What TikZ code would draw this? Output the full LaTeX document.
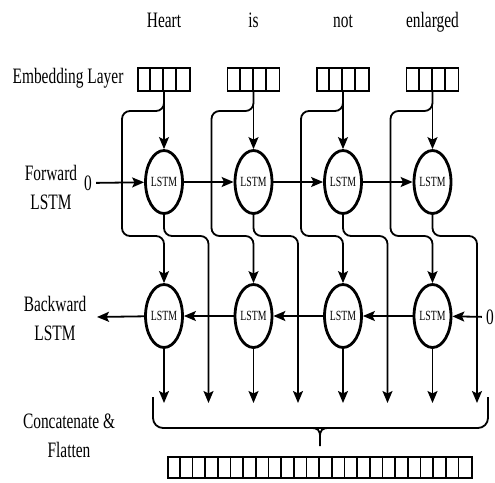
\documentclass[tikz,border=0pt]{standalone}
\usepackage{fontspec}
\newfontfamily\narrowserif[FakeStretch=0.7]{Liberation Serif}
\usetikzlibrary{arrows.meta, positioning, shapes.geometric}

\begin{document}
\begin{tikzpicture}[x=1pt, y=-1pt, node distance=89.5pt, on grid,
   >={Stealth[length=12pt, width=10pt, inset=2.5pt]}, line width=1.8pt,
   lstm/.style={ellipse, draw, line width=2.8pt, minimum width=35pt,
      minimum height=63pt, inner sep=0pt, font=\narrowserif\fontsize{14}{14}\selectfont},
   embbox/.style={draw, line width=1.6pt, minimum width=52pt, minimum height=23pt, inner sep=0pt},
   word/.style={font=\narrowserif\fontsize{22}{29}\selectfont, align=center}]
   \useasboundingbox (0,0) rectangle (495,482);

   % 前向 LSTM
   \node[lstm] (f1) at (164,182) {LSTM};
   \node[lstm] (f2) [right=of f1] {LSTM};
   \node[lstm] (f3) [right=of f2] {LSTM};
   \node[lstm] (f4) [right=of f3] {LSTM};
   % 后向 LSTM
   \node[lstm] (b1) [below=134pt of f1] {LSTM};
   \node[lstm] (b2) [right=of b1] {LSTM};
   \node[lstm] (b3) [right=of b2] {LSTM};
   \node[lstm] (b4) [right=of b3] {LSTM};
   % 嵌入层
   \node[embbox] (e1) [above=102.5pt of f1] {};
   \node[embbox] (e2) [right=of e1] {};
   \node[embbox] (e3) [right=of e2] {};
   \node[embbox] (e4) [right=of e3] {};
   \foreach \n in {e1,e2,e3,e4}
      \foreach \k in {1,2,3}
         \draw[line width=1.6pt] ([xshift=\k*13pt]\n.south west) -- ([xshift=\k*13pt]\n.north west);
   % 输入词
   \node[word, above=52.5pt of e1, anchor=base] (w1) {Heart};
   \node[word, above=52.5pt of e2, anchor=base] (w2) {is};
   \node[word, above=52.5pt of e3, anchor=base] (w3) {not};
   \node[word, above=52.5pt of e4, anchor=base] (w4) {enlarged};
   % 左侧说明
   \node[word] (lemb) at (68,78) {Embedding Layer};
   \node[word] (lfwd) at (51,187) {Forward\\LSTM};
   \node[word] (lbwd) at (55,318) {Backward\\LSTM};
   \node[word] (lcat) at (69,436) {Concatenate \&\\Flatten};
   \node[word] (z1) at (88,183) {0};
   \node[word] (z2) at (490,317) {0};
   \coordinate (bend) at (97,317);
   % 输出端
   \coordinate (c1) at (164,403);
   \coordinate (c2) at (208.5,403);
   \coordinate (c3) at (253.5,403);
   \coordinate (c4) at (298,403);
   \coordinate (c5) at (343,403);
   \coordinate (c6) at (387.5,403);
   \coordinate (c7) at (432.5,403);
   \coordinate (c8) at (477,403);

   % 直线箭头
   \path[->, line width=1.8pt]
   (z1) edge (f1)
   (f1) edge (f2)
   (f2) edge (f3)
   (f3) edge (f4)
   (z2) edge (b4)
   (b4) edge (b3)
   (b3) edge (b2)
   (b2) edge (b1)
   (b1) edge (bend)
   (e1) edge (f1)
   (e2) edge (f2)
   (e3) edge (f3)
   (e4) edge (f4)
   (b1) edge (c1)
   (b2) edge (c3)
   (b3) edge (c5)
   (b4) edge (c7);

   % 嵌入层到后向 LSTM
   \draw[->, rounded corners=8pt] (e1.south) -- (164,111) -- (122,111) -- (122,236) -- (164,236) -- (b1.north);
   \draw[->, rounded corners=8pt] (e2.south) -- (253.5,111) -- (211.5,111) -- (211.5,236) -- (253.5,236) -- (b2.north);
   \draw[->, rounded corners=8pt] (e3.south) -- (343,111) -- (301,111) -- (301,236) -- (343,236) -- (b3.north);
   \draw[->, rounded corners=8pt] (e4.south) -- (432.5,111) -- (390.5,111) -- (390.5,236) -- (432.5,236) -- (b4.north);
   % 前向输出
   \draw[->, rounded corners=8pt] (f1.south) |- (208.5,236) -- (c2);
   \draw[->, rounded corners=8pt] (f2.south) |- (298,236) -- (c4);
   \draw[->, rounded corners=8pt] (f3.south) |- (387.5,236) -- (c6);
   \draw[->, rounded corners=8pt] (f4.south) |- (477,236) -- (c8);

   % 括号与拼接向量
   \draw[rounded corners=10pt] (153,397) -- (153,428) -- (488,428) -- (488,397);
   \draw (311,428) .. controls (318,428) and (320,430) .. (320,437) -- (320,446);
   \draw (329,428) .. controls (322,428) and (320,430) .. (320,437);
   \node[draw, line width=1.6pt, minimum width=304pt, minimum height=21pt, inner sep=0pt] (flat) at (320,467.5) {};
   \foreach \k in {1,...,23}
      \draw[line width=1.6pt] ([xshift=\k*12.667pt]flat.south west) -- ([xshift=\k*12.667pt]flat.north west);
\end{tikzpicture}
\end{document}
